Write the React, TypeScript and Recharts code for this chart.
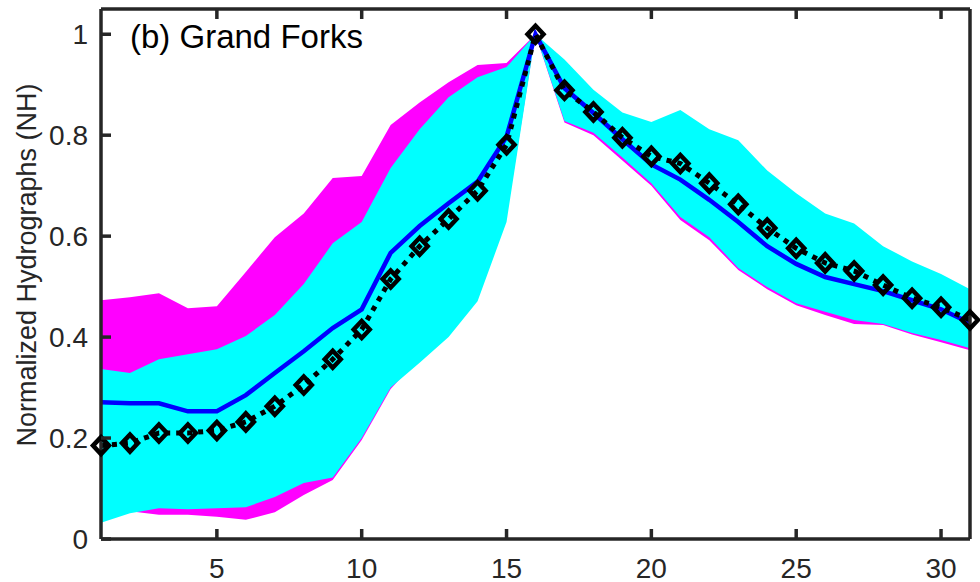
import { Area, ComposedChart, Line, XAxis, YAxis } from "recharts";

const DAYS = [1, 2, 3, 4, 5, 6, 7, 8, 9, 10, 11, 12, 13, 14, 15, 16, 17, 18, 19, 20, 21, 22, 23, 24, 25, 26, 27, 28, 29, 30, 31];

// black dotted line with diamonds
const OBSERVED = [0.185, 0.19, 0.21, 0.21, 0.215, 0.232, 0.263, 0.305, 0.356, 0.415, 0.515, 0.58, 0.634, 0.69, 0.781, 1.0, 0.889, 0.846, 0.795, 0.758, 0.744, 0.705, 0.663, 0.616, 0.576, 0.547, 0.531, 0.503, 0.477, 0.459, 0.434];
// blue solid line
const MEAN = [0.271, 0.269, 0.269, 0.253, 0.253, 0.285, 0.329, 0.372, 0.418, 0.455, 0.567, 0.62, 0.665, 0.708, 0.797, 1.0, 0.893, 0.844, 0.792, 0.742, 0.712, 0.672, 0.628, 0.58, 0.545, 0.519, 0.505, 0.491, 0.473, 0.455, 0.428];
// cyan band
const CYAN_LOW = [0.032, 0.051, 0.061, 0.059, 0.061, 0.063, 0.083, 0.111, 0.122, 0.2, 0.3, 0.349, 0.4, 0.471, 0.628, 1.0, 0.828, 0.805, 0.756, 0.705, 0.638, 0.598, 0.537, 0.499, 0.467, 0.45, 0.434, 0.426, 0.408, 0.394, 0.378];
const CYAN_HIGH = [0.337, 0.329, 0.356, 0.366, 0.376, 0.402, 0.444, 0.505, 0.586, 0.628, 0.735, 0.812, 0.875, 0.915, 0.935, 1.0, 0.95, 0.89, 0.845, 0.826, 0.85, 0.812, 0.79, 0.73, 0.685, 0.645, 0.625, 0.58, 0.55, 0.525, 0.495];
// magenta band
const MAGENTA_LOW = [0.045, 0.055, 0.048, 0.048, 0.044, 0.038, 0.053, 0.087, 0.117, 0.196, 0.297, 0.36, 0.41, 0.48, 0.64, 1.0, 0.825, 0.8, 0.75, 0.7, 0.632, 0.592, 0.533, 0.495, 0.463, 0.444, 0.426, 0.424, 0.405, 0.39, 0.374];
const MAGENTA_HIGH = [0.473, 0.479, 0.487, 0.457, 0.461, 0.529, 0.598, 0.645, 0.715, 0.719, 0.82, 0.865, 0.905, 0.939, 0.943, 1.0, 0.92, 0.87, 0.83, 0.8, 0.82, 0.79, 0.76, 0.7, 0.66, 0.62, 0.6, 0.56, 0.53, 0.505, 0.475];

const X_TICKS = [5, 10, 15, 20, 25, 30];
const Y_TICKS = [0, 0.2, 0.4, 0.6, 0.8, 1];

const rows = DAYS.map((day, i) => ({
  day,
  magenta: [MAGENTA_LOW[i], MAGENTA_HIGH[i]],
  cyan: [CYAN_LOW[i], CYAN_HIGH[i]],
  mean: MEAN[i],
  obs: OBSERVED[i],
}));

const INK = "#262626";
const FONT = '"Liberation Sans", Arial, Helvetica, sans-serif';
const TICK_W = 3.5;

function LeftTick({ x, y, payload }: any) {
  return (
    <g>
      <line x1={x + 13} x2={x + 23} y1={y} y2={y} stroke={INK} strokeWidth={TICK_W} />
      <text x={x} y={y + 10} textAnchor="end" fill={INK} fontSize={28} fontFamily={FONT}>
        {String(payload.value)}
      </text>
    </g>
  );
}

function BottomTick({ x, y, payload }: any) {
  return (
    <g>
      <line x1={x} x2={x} y1={y} y2={y - 10} stroke={INK} strokeWidth={TICK_W} />
      <text x={x} y={y + 39} textAnchor="middle" fill={INK} fontSize={28} fontFamily={FONT}>
        {String(payload.value)}
      </text>
    </g>
  );
}

function TopTick({ x, y }: any) {
  return <line x1={x} x2={x} y1={y} y2={y + 10} stroke={INK} strokeWidth={TICK_W} />;
}

function RightTick({ x, y }: any) {
  return <line x1={x} x2={x - 10} y1={y} y2={y} stroke={INK} strokeWidth={TICK_W} />;
}

function Diamond(props: any) {
  const { cx, cy, index } = props;
  if (cx == null || cy == null) return <g key={index} />;
  return (
    <polygon
      key={index}
      points={`${cx},${cy - 8.5} ${cx + 8},${cy} ${cx},${cy + 8.5} ${cx - 8},${cy}`}
      fill="none"
      stroke="#000"
      strokeWidth={4.5}
      strokeLinejoin="miter"
    />
  );
}

const axisLine = { stroke: INK, strokeWidth: 3.5 };

export default function App() {
  return (
    <div style={{ position: "absolute", left: 0, top: 0, width: 980, height: 582, background: "#fff" }}>
      <ComposedChart width={980} height={582} data={rows} margin={{ top: 0, right: 0, bottom: 0, left: 0 }}>
        <XAxis
          dataKey="day"
          type="number"
          domain={[1, 31]}
          ticks={X_TICKS}
          height={43}
          axisLine={axisLine}
          tickLine={false}
          tickSize={0}
          tickMargin={0}
          tick={<BottomTick />}
        />
        <XAxis
          xAxisId="top"
          orientation="top"
          dataKey="day"
          type="number"
          domain={[1, 31]}
          ticks={X_TICKS}
          height={9}
          axisLine={axisLine}
          tickLine={false}
          tickSize={0}
          tickMargin={0}
          tick={<TopTick />}
        />
        <YAxis
          type="number"
          domain={[0, 1.05]}
          ticks={Y_TICKS}
          width={101}
          axisLine={axisLine}
          tickLine={false}
          tickSize={0}
          tickMargin={13}
          tick={<LeftTick />}
        />
        <YAxis
          yAxisId="right"
          orientation="right"
          type="number"
          domain={[0, 1.05]}
          ticks={Y_TICKS}
          width={10}
          axisLine={axisLine}
          tickLine={false}
          tickSize={0}
          tickMargin={0}
          tick={<RightTick />}
        />
        <Area dataKey="magenta" type="linear" fill="#ff00ff" fillOpacity={1} stroke="none" dot={false} activeDot={false} isAnimationActive={false} />
        <Area dataKey="cyan" type="linear" fill="#00ffff" fillOpacity={1} stroke="none" dot={false} activeDot={false} isAnimationActive={false} />
        <Line dataKey="mean" type="linear" stroke="#0000ff" strokeWidth={4.5} dot={false} activeDot={false} isAnimationActive={false} />
        <Line
          dataKey="obs"
          type="linear"
          stroke="#000"
          strokeWidth={5}
          strokeDasharray="5 6"
          dot={Diamond}
          activeDot={false}
          isAnimationActive={false}
        />
      </ComposedChart>
      <svg width={980} height={582} style={{ position: "absolute", left: 0, top: 0, pointerEvents: "none" }}>
        <text x={130} y={48} fontSize={33} fontFamily={FONT} fill="#000">
          (b) Grand Forks
        </text>
        <text transform="translate(36,265) rotate(-90)" textAnchor="middle" fontSize={27} fontFamily={FONT} fill={INK}>
          Normalized Hydrographs (NH)
        </text>
      </svg>
    </div>
  );
}
